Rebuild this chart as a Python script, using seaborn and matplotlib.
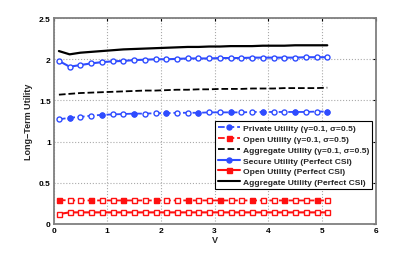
import numpy as np
import pandas as pd
import seaborn as sns
import matplotlib.pyplot as plt
from matplotlib.lines import Line2D

sns.set_style('white')
plt.rcParams['font.family'] = ['Liberation Sans', 'DejaVu Sans']
plt.rcParams['font.weight'] = 'bold'

# V values (0.1 to 5.1 step 0.2)
v = [0.1, 0.3, 0.5, 0.7, 0.9, 1.1, 1.3, 1.5, 1.7, 1.9, 2.1, 2.3, 2.5,
     2.7, 2.9, 3.1, 3.3, 3.5, 3.7, 3.9, 4.1, 4.3, 4.5, 4.7, 4.9, 5.1]

private_g = [1.27, 1.29, 1.30, 1.315, 1.325, 1.33, 1.335, 1.34, 1.34, 1.345, 1.345, 1.35, 1.35,
             1.35, 1.355, 1.355, 1.355, 1.355, 1.36, 1.36, 1.36, 1.36, 1.36, 1.36, 1.365, 1.365]
open_g = [0.29, 0.285, 0.285, 0.285, 0.285, 0.285, 0.285, 0.285, 0.285, 0.285, 0.285, 0.285, 0.285,
          0.285, 0.285, 0.285, 0.285, 0.285, 0.285, 0.285, 0.285, 0.285, 0.285, 0.285, 0.285, 0.285]
aggr_g = [1.57, 1.58, 1.59, 1.595, 1.60, 1.605, 1.61, 1.615, 1.62, 1.62, 1.625, 1.63, 1.63,
          1.635, 1.635, 1.64, 1.64, 1.64, 1.645, 1.645, 1.645, 1.65, 1.65, 1.65, 1.65, 1.655]
secure_p = [1.98, 1.91, 1.93, 1.95, 1.965, 1.975, 1.98, 1.99, 1.995, 2.0, 2.0, 2.005, 2.01,
            2.01, 2.01, 2.015, 2.015, 2.015, 2.02, 2.02, 2.02, 2.02, 2.02, 2.025, 2.025, 2.025]
open_p = [0.12, 0.14, 0.14, 0.14, 0.14, 0.14, 0.14, 0.14, 0.14, 0.14, 0.14, 0.14, 0.14,
          0.14, 0.14, 0.14, 0.14, 0.14, 0.14, 0.14, 0.14, 0.14, 0.14, 0.14, 0.14, 0.14]
aggr_p = [2.10, 2.06, 2.08, 2.09, 2.10, 2.11, 2.12, 2.125, 2.13, 2.135, 2.14, 2.145, 2.15,
          2.15, 2.155, 2.155, 2.16, 2.16, 2.16, 2.165, 2.165, 2.165, 2.17, 2.17, 2.17, 2.17]

labels = ['Private Utility (γ=0.1, σ=0.5)',
          'Open Utility (γ=0.1, σ=0.5)',
          'Aggregate Utility (γ=0.1, σ=0.5)',
          'Secure Utility (Perfect CSI)',
          'Open Utility (Perfect CSI)',
          'Aggregate Utility (Perfect CSI)']

blue = '#2f4cff'
red = '#ff1010'

df = pd.DataFrame({'V': v, 'pg': private_g, 'og': open_g, 'ag': aggr_g,
                   'sp': secure_p, 'op': open_p, 'ap': aggr_p})

fig = plt.figure(figsize=(4.15, 2.55), dpi=100)
ax = fig.add_axes([0.129, 0.118, 0.776, 0.807])

ms = 3.6
# dashed series (open markers, every third one filled)
sns.lineplot(data=df, x='V', y='pg', ax=ax, color=blue, ls='--', lw=1.3,
             marker='o', ms=ms, mfc='white', mec=blue, mew=1.0)
sns.lineplot(data=df, x='V', y='pg', ax=ax, color=blue, ls='none',
             marker='o', ms=ms, mfc=blue, mec=blue, markevery=slice(1, None, 3))
sns.lineplot(data=df, x='V', y='og', ax=ax, color=red, ls='--', lw=1.3,
             marker='s', ms=ms, mfc='white', mec=red, mew=1.0)
sns.lineplot(data=df, x='V', y='og', ax=ax, color=red, ls='none',
             marker='s', ms=ms, mfc=red, mec=red, markevery=slice(0, None, 3))
sns.lineplot(data=df, x='V', y='ag', ax=ax, color='black', ls='--', lw=1.3)
# perfect CSI series
sns.lineplot(data=df, x='V', y='sp', ax=ax, color=blue, lw=1.5,
             marker='o', ms=ms, mfc='white', mec=blue, mew=1.0)
sns.lineplot(data=df, x='V', y='op', ax=ax, color=red, lw=1.5,
             marker='s', ms=ms, mfc='white', mec=red, mew=1.0)
sns.lineplot(data=df, x='V', y='ap', ax=ax, color='black', lw=1.6)

ax.set_xlim(0, 6)
ax.set_ylim(0, 2.5)
ax.set_xticks([0, 1, 2, 3, 4, 5, 6])
ax.set_yticks([0, 0.5, 1, 1.5, 2, 2.5])
ax.set_yticklabels(['0', '0.5', '1', '1.5', '2', '2.5'])
ax.grid(True, ls=':', color='#aaaaaa', lw=0.8)
ax.tick_params(direction='in', labelsize=6, length=2.5, width=0.8, colors='black',
               top=True, right=True, pad=2)
for s in ax.spines.values():
    s.set_color('#7f7f7f')
    s.set_linewidth(1.3)
ax.set_xlabel('V', fontsize=6.5, fontweight='bold', labelpad=1)
ax.set_ylabel('Long\u2212Term Utility', fontsize=6.5, fontweight='bold', labelpad=4)

handles = [
    Line2D([], [], color=blue, ls='--', lw=1.3, marker='o', ms=ms, mfc=blue, mec=blue),
    Line2D([], [], color=red, ls='--', lw=1.3, marker='s', ms=ms, mfc=red, mec=red),
    Line2D([], [], color='black', ls='--', lw=1.3),
    Line2D([], [], color=blue, lw=1.5, marker='o', ms=ms, mfc=blue, mec=blue),
    Line2D([], [], color=red, lw=1.5, marker='s', ms=ms, mfc=red, mec=red),
    Line2D([], [], color='black', lw=1.5),
]
leg = ax.legend(handles, labels, loc='lower right', bbox_to_anchor=(0.99, 0.17),
                fontsize=6.1, frameon=True, fancybox=False, framealpha=1,
                edgecolor='black', handlelength=2.6, handletextpad=0.4,
                labelspacing=0.33, borderpad=0.35, borderaxespad=0)
leg.get_frame().set_linewidth(0.8)
for t in leg.get_texts():
    t.set_fontweight('bold')

fig.savefig('out.png', dpi=100)
